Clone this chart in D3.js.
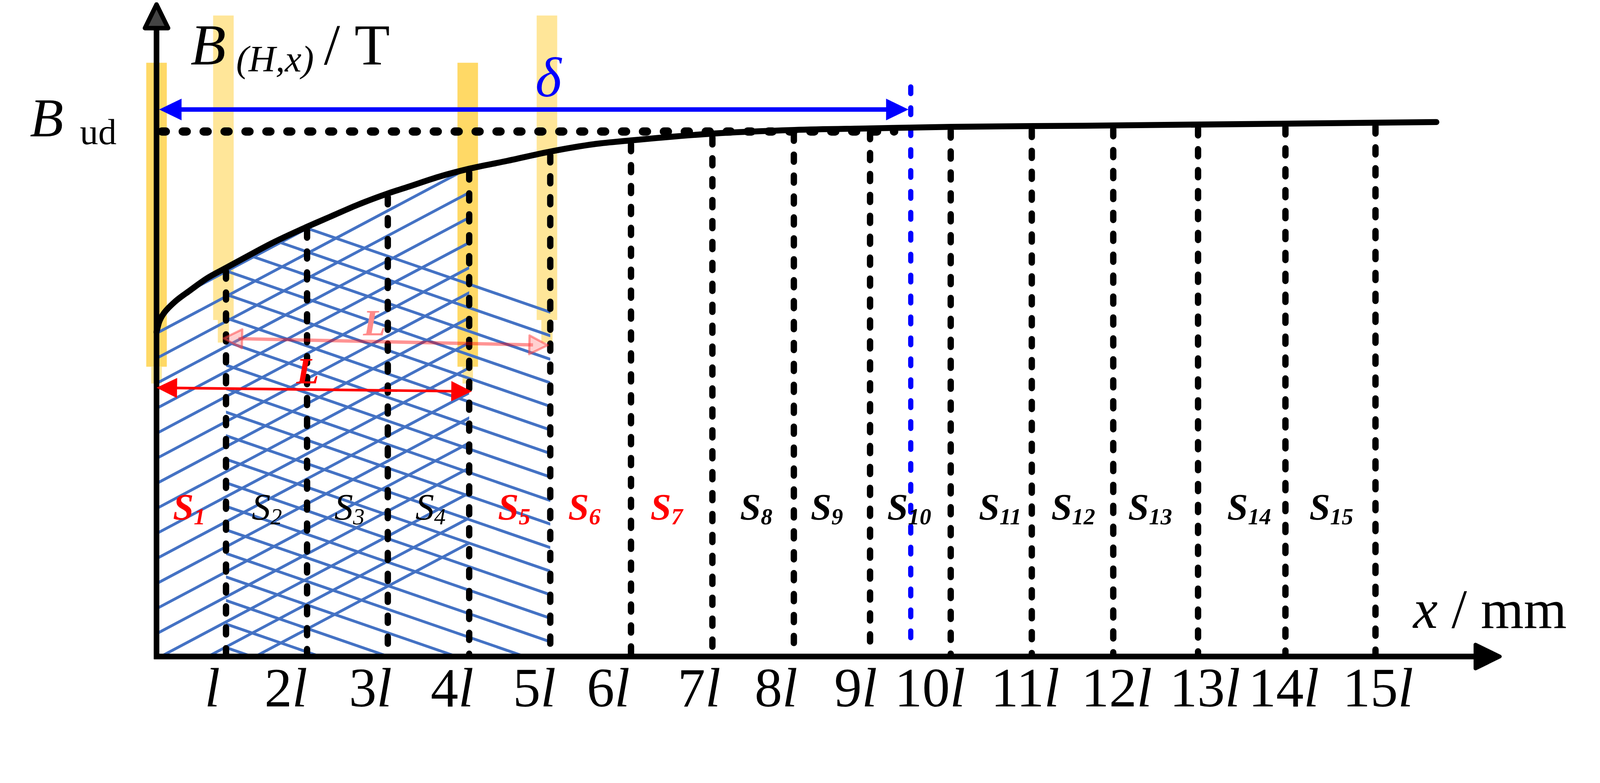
<!DOCTYPE html>
<html><head><meta charset="utf-8">
<script src="https://cdn.jsdelivr.net/npm/d3@7"></script>
<style>html,body{margin:0;padding:0;background:#fff;overflow:hidden;width:100%;height:100%}svg{display:block;width:100vw;height:100vh}</style>
</head><body>
<svg id="c" viewBox="0 0 4283 2004" preserveAspectRatio="xMidYMin meet" xmlns="http://www.w3.org/2000/svg"></svg>
<script>
// ---------------- data (x in units of l, B relative to B_ud) ----------------
const curveX = [0, 0.032, 0.055, 0.101, 0.147, 0.221, 0.410, 0.618, 0.853, 1.115, 1.419, 1.820, 2.147, 2.475, 2.853, 3.111, 3.507, 3.853, 4.323, 4.862, 5.401, 5.848, 6.857, 7.871, 8.806, 9.811, 11.433, 15.788];
const curveB = [0.618, 0.637, 0.645, 0.656, 0.664, 0.675, 0.697, 0.720, 0.740, 0.762, 0.787, 0.816, 0.838, 0.860, 0.882, 0.895, 0.915, 0.929, 0.944, 0.962, 0.976, 0.983, 0.996, 1.003, 1.006, 1.009, 1.011, 1.018];
const sliceX = [0.857, 1.857, 2.853, 3.857, 4.857, 5.853, 6.857, 7.862, 8.802, 9.797, 10.797, 11.802, 12.848, 13.926, 15.037];
const deltaX = 9.304;
const Bud = 1;
const tickLabels = ["l","2l","3l","4l","5l","6l","7l","8l","9l","10l","11l","12l","13l","14l","15l"];
const tickX = [0.687, 1.594, 2.636, 3.645, 4.659, 5.571, 6.691, 7.641, 8.622, 9.539, 10.714, 11.843, 12.931, 13.903, 15.065];
const sNames = ["1","2","3","4","5","6","7","8","9","10","11","12","13","14","15"];
const sX = [0.203, 1.175, 2.194, 3.194, 4.212, 5.078, 6.092, 7.198, 8.069, 9.014, 10.143, 11.037, 11.986, 13.207, 14.221];
const coilDark = [0, 3.839];
const coilLight = [0.825, 4.816];

// ---------------- scales ----------------
const svg = d3.select('#c');
const x = d3.scaleLinear().domain([0, 1]).range([419, 636]);
const y = d3.scaleLinear().domain([0, 1]).range([1757, 352]);
const bAt = d3.scaleLinear().domain(curveX).range(curveB).clamp(true);
const FONT = '"Liberation Serif", "Times New Roman", serif';
const redS = new Set([0, 4, 5, 6]);
const plainS = new Set([1, 2, 3]);

const defs = svg.append('defs');

// ---------------- coil bars ----------------
const gBars = svg.append('g');
coilDark.forEach(c => {
  gBars.append('rect').attr('x', x(c) - 27.5).attr('width', 55)
    .attr('y', y(1.131)).attr('height', y(0.552) - y(1.131)).attr('fill', '#FFD966');
  gBars.append('rect').attr('x', x(c) - 14).attr('width', 28)
    .attr('y', y(0.552)).attr('height', y(0.520) - y(0.552)).attr('fill', '#FFE699');
});
coilLight.forEach(c => {
  gBars.append('rect').attr('x', x(c) - 27.5).attr('width', 55)
    .attr('y', y(1.221)).attr('height', y(0.641) - y(1.221)).attr('fill', '#FFE699');
  gBars.append('rect').attr('x', x(c) - 15).attr('width', 30)
    .attr('y', y(0.641)).attr('height', y(0.598) - y(0.641)).attr('fill', '#FFE699');
});

// ---------------- hatch (clipped under curve) ----------------
const area = d3.area().x((d, i) => x(curveX[i])).y0(y(0)).y1((d, i) => y(curveB[i])).curve(d3.curveMonotoneX);
defs.append('clipPath').attr('id', 'under').append('path').attr('d', area(curveX));
defs.append('clipPath').attr('id', 'rangeA').append('rect')
  .attr('x', x(0)).attr('y', 0).attr('width', x(sliceX[3]) - x(0)).attr('height', y(0));
defs.append('clipPath').attr('id', 'rangeB').append('rect')
  .attr('x', x(sliceX[0])).attr('y', 0).attr('width', x(sliceX[4]) - x(sliceX[0])).attr('height', y(0));

const hatchColor = '#4472C4';
const gH = svg.append('g').attr('clip-path', 'url(#under)');
const gA = gH.append('g').attr('clip-path', 'url(#rangeA)');
const gB = gH.append('g').attr('clip-path', 'url(#rangeB)');
{
  const x0 = x(0) - 10, x1 = x(sliceX[3]) + 10, s = 0.53, sp = 67;
  for (let k = -2; k < 30; k++) {
    const ys = y(0) + 6 - k * sp + s * 10;
    gA.append('line').attr('x1', x0).attr('y1', ys).attr('x2', x1).attr('y2', ys - s * (x1 - x0))
      .attr('stroke', hatchColor).attr('stroke-width', 7.5);
  }
}
{
  const x0 = x(sliceX[0]) - 10, x1 = x(sliceX[4]) + 10, s = 0.345, sp = 63;
  for (let k = -4; k < 20; k++) {
    const ys = y(0) - 969 + k * sp - s * 10;
    gB.append('line').attr('x1', x0).attr('y1', ys).attr('x2', x1).attr('y2', ys + s * (x1 - x0))
      .attr('stroke', hatchColor).attr('stroke-width', 7.5);
  }
}

// ---------------- vertical dashed slice lines ----------------
svg.append('g').selectAll('line').data(sliceX).join('line')
  .attr('x1', d => x(d)).attr('x2', d => x(d))
  .attr('y1', d => y(bAt(d)) + 10).attr('y2', y(0) - 4)
  .attr('stroke', '#000').attr('stroke-width', 17)
  .attr('stroke-dasharray', '19 37').attr('stroke-linecap', 'round');

// delta line
svg.append('line').attr('x1', x(deltaX)).attr('x2', x(deltaX))
  .attr('y1', y(1.085)).attr('y2', y(0) - 30)
  .attr('stroke', '#0000FF').attr('stroke-width', 14)
  .attr('stroke-dasharray', '18 38').attr('stroke-linecap', 'round');

// B_ud dashed line
svg.append('line').attr('x1', x(0) + 14).attr('x2', x(9.1))
  .attr('y1', y(Bud)).attr('y2', y(Bud))
  .attr('stroke', '#000').attr('stroke-width', 22)
  .attr('stroke-dasharray', '11 45').attr('stroke-linecap', 'round');

// ---------------- curve ----------------
const line = d3.line().x((d, i) => x(curveX[i])).y((d, i) => y(curveB[i])).curve(d3.curveMonotoneX);
svg.append('path').attr('d', line(curveX)).attr('fill', 'none')
  .attr('stroke', '#000').attr('stroke-width', 16).attr('stroke-linecap', 'round').attr('stroke-linejoin', 'round');

// ---------------- axes ----------------
const xTip = 16.571, xBase = 16.27;
svg.append('line').attr('x1', x(0) - 7).attr('x2', x(xBase) + 5).attr('y1', y(0)).attr('y2', y(0))
  .attr('stroke', '#000').attr('stroke-width', 15);
svg.append('path')
  .attr('d', `M${x(xTip)},${y(0)} L${x(xBase)},${y(0) - 32} L${x(xBase)},${y(0) + 32} Z`)
  .attr('fill', '#000').attr('stroke', '#000').attr('stroke-width', 10).attr('stroke-linejoin', 'round');
const yTip = 1.242, yBase = 1.197;
svg.append('line').attr('x1', x(0)).attr('x2', x(0)).attr('y1', y(0) + 7).attr('y2', y(yBase) - 5)
  .attr('stroke', '#000').attr('stroke-width', 15);
svg.append('path')
  .attr('d', `M${x(0)},${y(yTip)} L${x(0) - 31},${y(yBase)} L${x(0) + 31},${y(yBase)} Z`)
  .attr('fill', '#444').attr('stroke', '#000').attr('stroke-width', 12).attr('stroke-linejoin', 'round');

// ---------------- arrows ----------------
function arrow(g, xa, ya, xb, yb, len, half, color, width, headFill, headStroke) {
  const ang = Math.atan2(yb - ya, xb - xa);
  const ux = Math.cos(ang), uy = Math.sin(ang), nx = -uy, ny = ux;
  g.append('line').attr('x1', xa + ux * len * 0.8).attr('y1', ya + uy * len * 0.8)
    .attr('x2', xb - ux * len * 0.8).attr('y2', yb - uy * len * 0.8)
    .attr('stroke', color).attr('stroke-width', width);
  const head = (tx, ty, dir) => {
    const bx = tx - dir * ux * len, by = ty - dir * uy * len;
    g.append('path').attr('d', `M${tx},${ty} L${bx + nx * half},${by + ny * half} L${bx - nx * half},${by - ny * half} Z`)
      .attr('fill', headFill).attr('stroke', headStroke || 'none').attr('stroke-width', headStroke ? 6 : 0)
      .attr('stroke-linejoin', 'round');
  };
  head(xa, ya, -1);
  head(xb, yb, 1);
}
const gArr = svg.append('g');
arrow(gArr, x(0) + 7, y(1.042), x(deltaX) - 6, y(1.042), 60, 29, '#0000FF', 12, '#0000FF');
arrow(gArr, x(0), y(0.512), x(sliceX[3]) + 7, y(0.505), 55, 27, '#FF0000', 7, '#FF0000');
arrow(gArr, x(sliceX[0]) - 6, y(0.606), x(sliceX[4]) - 7, y(0.593), 49, 25, 'rgba(255,0,0,0.42)', 9, 'rgba(255,120,120,0.35)', 'rgba(255,60,60,0.5)');

// ---------------- texts ----------------
const gT = svg.append('g').attr('font-family', FONT);

const title = gT.append('text').attr('x', x(0.419)).attr('y', y(1.128)).attr('font-size', 155);
title.append('tspan').attr('font-style', 'italic').text('B');
title.append('tspan').attr('x', x(0.982)).attr('dy', 19).attr('font-size', 100).attr('font-style', 'italic').text('(H,x)');
title.append('tspan').attr('x', x(2.065)).attr('dy', -19).text('/');
title.append('tspan').attr('x', x(2.442)).text('T');

const bud = gT.append('text').attr('x', x(-1.562)).attr('y', y(0.991)).attr('font-size', 147);
bud.append('tspan').attr('font-style', 'italic').text('B');
bud.append('tspan').attr('x', x(-0.945)).attr('dy', 21).attr('font-size', 98).text('ud');

gT.append('text').attr('x', x(4.834)).attr('y', y(1.067)).attr('text-anchor', 'middle')
  .attr('font-size', 150).attr('font-style', 'italic').attr('fill', '#0000FF').text('δ');

gT.append('text').attr('x', x(1.724)).attr('y', y(0.520)).attr('font-size', 100)
  .attr('font-style', 'italic').attr('font-weight', 'bold').attr('fill', '#FF0000').text('L');
gT.append('text').attr('x', x(2.548)).attr('y', y(0.611)).attr('font-size', 100)
  .attr('font-style', 'italic').attr('font-weight', 'bold').attr('fill', '#FF8A8A').text('L');

sNames.forEach((n, i) => {
  const t = gT.append('text').attr('x', x(sX[i])).attr('y', y(0.261)).attr('font-size', 100)
    .attr('font-style', 'italic').attr('font-weight', plainS.has(i) ? 'normal' : 'bold')
    .attr('fill', redS.has(i) ? '#FF0000' : '#000');
  t.append('tspan').text('S');
  t.append('tspan').attr('dy', 13).attr('font-size', 62).text(n);
});

const ax = d3.axisBottom(x).tickValues(tickX).tickSize(0).tickFormat((d, i) => tickLabels[i]);
const gAx = svg.append('g').attr('transform', `translate(0,${y(-0.095)})`).call(ax);
gAx.select('.domain').remove();
gAx.attr('font-family', FONT).attr('font-size', 148);
gAx.selectAll('text').attr('y', 0).attr('dy', null).attr('fill', '#000').each(function () {
  const t = d3.select(this); const s = t.text(); t.text(null);
  if (s.length > 1) t.append('tspan').text(s.slice(0, -1));
  t.append('tspan').attr('font-style', 'italic').text('l');
});

const xt = gT.append('text').attr('x', x(15.502)).attr('y', y(0.0548)).attr('font-size', 148);
xt.append('tspan').attr('font-style', 'italic').text('x');
xt.append('tspan').text(' / mm');
</script>
</body></html>
